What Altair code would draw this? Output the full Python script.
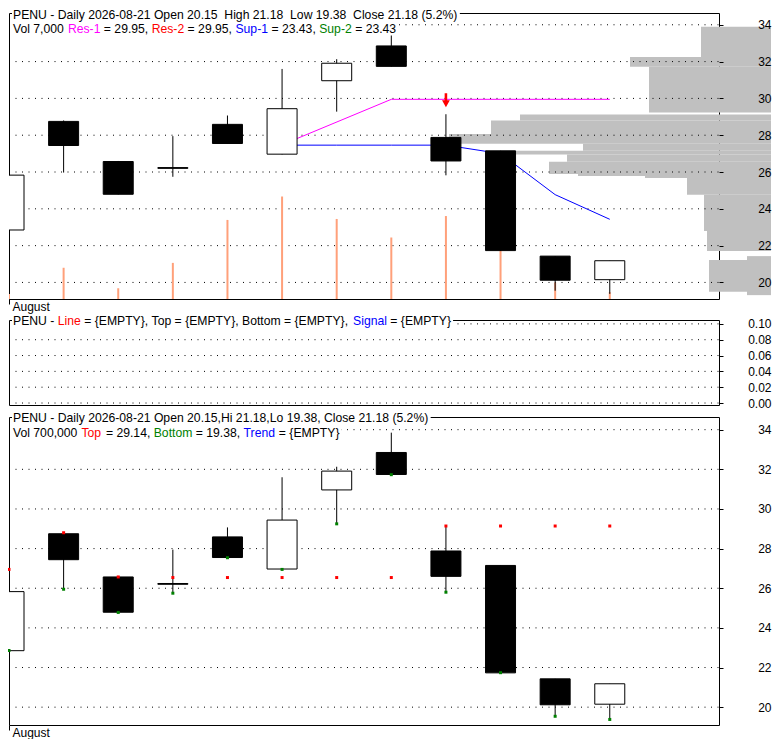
import altair as alt
import pandas as pd

# ------------------------------------------------------------------ data
idx = list(range(12))
opens = [22.85, 28.75, 26.57, 26.24, 28.59, 26.97, 30.96, 32.85, 27.88, 27.15, 21.43, 20.15]
highs = [26.89, 28.80, 26.60, 27.95, 29.07, 31.60, 32.13, 33.85, 29.14, 27.15, 21.43, 21.18]
lows = [22.85, 25.97, 24.78, 25.74, 27.55, 26.95, 29.28, 31.73, 25.82, 21.72, 19.55, 19.38]
closes = [25.83, 27.44, 24.79, 26.20, 27.55, 29.44, 31.91, 31.74, 26.60, 21.73, 20.12, 21.18]
volumes = [5000, 32000, 11000, 37000, 81000, 105000, 82000, 63000, 85000, 110000, 17000, 7000]
top_marks = [26.95, 28.80, 26.57, 26.54, 26.54, 26.54, 26.54, 26.54, 29.14, 29.14, 29.14, 29.14]
bottom_marks = [22.86, 25.95, 24.78, 25.75, 27.54, 26.95, 29.25, 31.73, 25.80, 21.74, 19.54, 19.38]

res1_idx = [5, 7, 8, 9, 10, 11]
res1_val = [27.48, 29.95, 29.95, 29.95, 29.95, 29.95]
sup1_idx = [5, 6, 7, 8, 9, 10, 11]
sup1_val = [27.46, 27.46, 27.46, 27.46, 27.00, 24.77, 23.43]
arrow_idx = [8]
arrow_val = [29.90]

prof_hi = [33.89, 32.25, 31.72, 29.12, 28.80, 28.06, 27.53, 27.16, 26.95, 26.56, 25.89, 25.78, 25.67, 24.77, 22.79, 21.43, 21.22]
prof_lo = [32.25, 31.72, 29.23, 28.80, 28.06, 27.53, 27.16, 26.95, 26.56, 25.89, 25.78, 25.67, 24.77, 22.79, 21.71, 19.31, 19.49]
prof_vol = [78, 149, 130, 259, 288, 330, 196, 279, 212, 230, 201, 134, 92, 75, 72, 32, 70]

price_ticks = [20, 22, 24, 26, 28, 30, 32, 34]
osc_ticks = [0.00, 0.02, 0.04, 0.06, 0.08, 0.10]
month_ticks = [0]
month_label = "August"

hdr1 = [[("PENU - Daily 2026-08-21 Open 20.15  High 21.18  Low 19.38  Close 21.18 (5.2%)", "black")],
        [("Vol 7,000 ", "black"), ("Res-1", "#FF00FF"), (" = 29.95, ", "black"), ("Res-2", "#FF0000"),
         (" = 29.95, ", "black"), ("Sup-1", "#0000FF"), (" = 23.43, ", "black"), ("Sup-2", "#008000"),
         (" = 23.43", "black")]]
hdr2 = [[("PENU - ", "black"), ("Line", "#FF0000"), (" = {EMPTY}, Top = {EMPTY}, Bottom = {EMPTY}, ", "black"),
         ("Signal", "#0000FF"), (" = {EMPTY}", "black")]]
hdr3 = [[("PENU - Daily 2026-08-21 Open 20.15,Hi 21.18,Lo 19.38, Close 21.18 (5.2%)", "black")],
        [("Vol 700,000 ", "black"), ("Top", "#FF0000"), (" = 29.14, ", "black"), ("Bottom", "#008000"),
         (" = 19.38, ", "black"), ("Trend", "#0000FF"), (" = {EMPTY}", "black")]]

# ------------------------------------------------------------------ layout / style
W = 710
H1, H2, H3 = 286, 85, 308
RPAD = 52           # right axis labels / volume profile end, px right of the frame
FONT = "Liberation Sans"
FS = 12.2
X0 = 4
PRICE_DOM = [19.10, 34.64]
OSC_DOM = [-0.0025, 0.1049]
SALMON = "#FFA07A"
GRAY = "#C0C0C0"
ARROW = "M-0.18,-1L0.18,-1L0.18,0L0.55,0L0,1L-0.55,0L-0.18,0Z"

AW = {' ': 278, '%': 889, '(': 333, ')': 333, ',': 278, '-': 333, '.': 278, '=': 584,
      '{': 334, '}': 334, 'A': 667, 'B': 667, 'C': 722, 'D': 722, 'E': 667, 'H': 722, 'I': 278,
      'L': 556, 'M': 833, 'N': 722, 'O': 778, 'P': 667, 'R': 722, 'S': 667, 'T': 611, 'U': 722,
      'V': 667, 'Y': 667, 'a': 556, 'b': 556, 'c': 500, 'd': 556, 'e': 556, 'g': 556, 'h': 556,
      'i': 222, 'l': 222, 'm': 833, 'n': 556, 'o': 556, 'p': 556, 'r': 333, 's': 500, 't': 278,
      'u': 556, 'w': 722, 'y': 500}


def tw(s):
    return sum(AW.get(ch, 556) for ch in s) * FS / 1000.0


one = pd.DataFrame({"k": [0]})


def header(lines, bases):
    layers = []
    for base, segs in zip(bases, lines):
        total = sum(tw(t) for t, _ in segs)
        layers.append(alt.Chart(one).mark_rect(color="white").encode(
            x=alt.value(X0 - 1), x2=alt.value(X0 + total + 2),
            y=alt.value(base - 10), y2=alt.value(base + 3)))
    for base, segs in zip(bases, lines):
        x = X0
        for t, c in segs:
            lead = len(t) - len(t.lstrip(" "))
            txt = t.strip(" ").replace(" ", "\u00a0")
            if txt:
                layers.append(alt.Chart(one).mark_text(
                    align="left", baseline="alphabetic", font=FONT, fontSize=FS, color=c).encode(
                    x=alt.value(x + tw(t[:lead])), y=alt.value(base), text=alt.value(txt)))
            x += tw(t)
    return layers


def xscale():
    return alt.Scale(domain=[0, 13], nice=False, zero=False, padding=0)


def pscale():
    return alt.Scale(domain=PRICE_DOM, nice=False, zero=False, padding=0)


def month_axis():
    return alt.Axis(orient="bottom", values=month_ticks, labelExpr="'%s'" % month_label, domain=False,
                    grid=False, tickSize=5, tickColor="black", tickWidth=1, labelAlign="left",
                    labelOffset=3, labelBaseline="alphabetic", labelPadding=6, labelFontSize=12,
                    labelFont=FONT, labelColor="black", title=None, labelOverlap=False, labelFlush=False)


def value_axis(vals, fmt):
    return alt.Axis(orient="right", values=vals, format=fmt, domain=False, grid=False, tickSize=4,
                    tickColor="black", labelAlign="right", labelPadding=RPAD - 4, labelFontSize=12,
                    labelFont=FONT, labelColor="black", title=None, zindex=1, labelOverlap=False,
                    labelFlush=False, labelBaseline="middle")


def grid(vals, scale, fmt):
    return alt.Chart(pd.DataFrame({"v": vals})).mark_rule(
        color="black", strokeDash=[1, 5.5], strokeWidth=1).encode(
        y=alt.Y("v:Q", scale=scale, axis=value_axis(vals, fmt)),
        x=alt.value(0), x2=alt.value(W))


df = pd.DataFrame({"i": idx, "open": opens, "high": highs, "low": lows, "close": closes,
                   "vol": volumes, "top": top_marks, "bottom": bottom_marks})


def candles(with_axis):
    wick = alt.Chart(df).mark_rule(color="black", strokeWidth=1, clip=True).encode(
        x=alt.X("i:Q", scale=xscale(), axis=month_axis() if with_axis else None),
        y=alt.Y("low:Q", scale=pscale(), axis=None), y2="high:Q")
    body = alt.Chart(df).mark_bar(size=30, stroke="black", strokeWidth=1, clip=True).encode(
        x=alt.X("i:Q", scale=xscale(), axis=None),
        y=alt.Y("open:Q", scale=pscale(), axis=None), y2="close:Q",
        fill=alt.condition("datum.close >= datum.open", alt.value("white"), alt.value("black")))
    return [wick, body]


# ------------------------------------------------------------------ panel 1
prof = alt.Chart(pd.DataFrame({"hi": prof_hi, "lo": prof_lo, "pv": prof_vol})).mark_rect(
    color=GRAY, clip=False).encode(
    x=alt.X("pv:Q", scale=alt.Scale(domain=[0, 400], range=[770, 370], padding=0), axis=None),
    x2=alt.value(W + RPAD),
    y=alt.Y("hi:Q", scale=pscale(), axis=None), y2="lo:Q")

vol = alt.Chart(df).mark_bar(size=2, color=SALMON, clip=True).encode(
    x=alt.X("i:Q", scale=xscale(), axis=None),
    y=alt.Y("vol:Q", scale=alt.Scale(domain=[0, 293000], nice=False, padding=0), axis=None))

res1 = alt.Chart(pd.DataFrame({"i": res1_idx, "v": res1_val})).mark_line(
    color="#FF00FF", strokeWidth=1).encode(
    x=alt.X("i:Q", scale=xscale(), axis=None), y=alt.Y("v:Q", scale=pscale(), axis=None))
sup1 = alt.Chart(pd.DataFrame({"i": sup1_idx, "v": sup1_val})).mark_line(
    color="#0000FF", strokeWidth=1).encode(
    x=alt.X("i:Q", scale=xscale(), axis=None), y=alt.Y("v:Q", scale=pscale(), axis=None))
arrow = alt.Chart(pd.DataFrame({"i": arrow_idx, "v": arrow_val})).mark_point(
    shape=ARROW, size=200, filled=True, color="#FF0000", opacity=1, strokeWidth=0).encode(
    x=alt.X("i:Q", scale=xscale(), axis=None), y=alt.Y("v:Q", scale=pscale(), axis=None))

p1 = alt.layer(prof, grid(price_ticks, pscale(), "d"), vol, res1, sup1, *candles(True), arrow,
               *header(hdr1, [5.5, 19.5])).resolve_scale(x="independent", y="independent").properties(
    width=W, height=H1)

# ------------------------------------------------------------------ panel 2
p2 = alt.layer(grid(osc_ticks, alt.Scale(domain=OSC_DOM, nice=False, zero=False, padding=0), ".2f"),
               *header(hdr2, [5.0])).properties(width=W, height=H2)

# ------------------------------------------------------------------ panel 3
tops = alt.Chart(df).mark_square(size=9, color="#FF0000", opacity=1).encode(
    x=alt.X("i:Q", scale=xscale(), axis=None), y=alt.Y("top:Q", scale=pscale(), axis=None))
bots = alt.Chart(df).mark_square(size=9, color="#008000", opacity=1).encode(
    x=alt.X("i:Q", scale=xscale(), axis=None), y=alt.Y("bottom:Q", scale=pscale(), axis=None))

p3 = alt.layer(grid(price_ticks, pscale(), "d"), *candles(True), tops, bots,
               *header(hdr3, [5.0, 19.5])).resolve_scale(x="independent", y="independent").properties(
    width=W, height=H3)

chart = alt.vconcat(p1, p2, p3, spacing=1).properties(
    padding={"left": -1, "top": 0, "right": 0, "bottom": 0}, background="white").configure_view(
    stroke="black", strokeWidth=1)

chart.save("out.html", embed_options={"renderer": "svg", "actions": False})
